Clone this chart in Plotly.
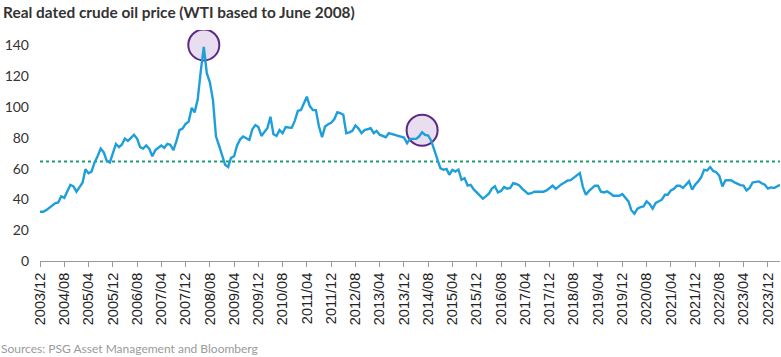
import plotly.graph_objects as go
import pandas as pd

title = "Real dated crude oil price (WTI based to June 2008)"
source = "Sources: PSG Asset Management and Bloomberg"

start_month = "2003-12-01"
# Monthly real WTI price, 2003/12 .. 2024/04
wti_real = [
    32, 32, 33, 34.5, 36, 37.5, 38, 42, 41, 45,
    49.5, 48.5, 45, 48, 51, 59.5, 57, 58, 64, 68,
    73, 70.5, 65, 64, 70, 76, 74, 75.5, 79.5, 78,
    80, 82, 79.5, 74, 73, 75, 73, 68, 72, 73.5,
    75, 73.5, 76, 75.5, 72, 78, 85, 86, 89, 90.5,
    99.5, 96.5, 105, 123, 139, 122, 116, 104.5, 81, 75,
    68, 62.5, 61, 67, 68, 75, 79, 80.8, 79.7, 78.6,
    85.6, 88.3, 87, 81.2, 84, 86.2, 93.7, 82.3, 81.2, 85,
    83, 87, 86.7, 86.5, 91, 97.5, 98, 102, 106.7, 100.6,
    98, 98, 87.3, 80.4, 87.3, 88.8, 89.8, 92, 96.6, 96,
    95, 83, 83.5, 84.5, 88, 86, 83, 85, 85.5, 86.2,
    83, 84.5, 82, 81, 80.4, 83, 82.5, 81.9, 81.3, 80.8,
    80.2, 76.5, 79.3, 79.3, 79.3, 80.8, 83.6, 81.9, 81.5, 78,
    72, 67, 60.3, 59.2, 59.8, 56, 59.2, 58.1, 59.4, 52.7,
    53.8, 49, 49.5, 46.5, 44.5, 42, 40.5, 42, 43.7, 47,
    48.5, 44.5, 45.5, 48, 47, 47.5, 50.5, 50, 49, 47,
    45.5, 43.5, 44, 45, 45, 44.8, 45, 45.8, 47.4, 48.9,
    46.8, 48.5, 49.9, 51, 52.3, 52.5, 54, 55.5, 57.1, 48,
    43, 45.5, 47.5, 48.9, 48.9, 45, 44.5, 45.2, 44, 42.4,
    42.4, 42.4, 43.5, 41, 38.7, 33, 30.7, 34, 35, 35.4,
    38.7, 37, 34, 37.7, 38.7, 39.8, 43, 43, 45.8, 46.8,
    48.9, 48.9, 47.4, 49.5, 51.7, 46.3, 49.5, 51.7, 54.5, 59.2,
    58.8, 61, 58.5, 57.7, 55.3, 48.4, 52.3, 52.5, 52.3, 51,
    50, 49.3, 48.9, 45.8, 47.4, 51, 51.4, 51.7, 50.5, 49.5,
    47, 47.8, 47.4, 48.5, 49.5,
]
average_level = 64.6
highlight_months = ["2008-06-01", "2014-06-01"]

dates = pd.date_range(start_month, periods=len(wti_real), freq="MS")
tick_dates = dates[::8]
tick_text = [d.strftime("%Y/%m") for d in tick_dates]
value_by_date = dict(zip(dates.strftime("%Y-%m-%d"), wti_real))

fig = go.Figure()

for hm in highlight_months:
    fig.add_shape(
        type="circle", xref="x", yref="y",
        xsizemode="pixel", ysizemode="pixel",
        xanchor=hm, yanchor=value_by_date[hm],
        x0=-15.5, x1=15.5, y0=-15.5 + 2, y1=15.5 + 2,
        line=dict(color="#5b2a86", width=2),
        fillcolor="rgba(225,210,235,0.75)",
        layer="below",
    )

fig.add_shape(
    type="line", xref="paper", yref="y",
    x0=0, x1=1, y0=average_level, y1=average_level,
    line=dict(color="#1f9e6e", width=2, dash="dot"),
    layer="below",
)

fig.add_trace(go.Scatter(
    x=dates, y=wti_real, mode="lines",
    line=dict(color="#1f9fd9", width=2.4),
    hoverinfo="x+y", showlegend=False,
))

fig.update_layout(
    width=781, height=357,
    margin=dict(l=40, r=1, t=30, b=95.5, autoexpand=False),
    paper_bgcolor="white", plot_bgcolor="white",
    font=dict(family="Lato", color="#333333"),
    title=dict(
        text="<b>" + title + "</b>", x=0.004, xanchor="left",
        y=1 - 13 / 357, yanchor="middle",
        font=dict(family="Lato", size=15.4, color="#333333"),
        automargin=False,
    ),
    annotations=[dict(
        text=source, xref="paper", yref="paper",
        x=-41 / 740, xanchor="left", y=-(349 - 261.5) / 231.5, yanchor="middle",
        showarrow=False, font=dict(family="Lato", size=12, color="#9a9a9a"),
    )],
)

fig.update_xaxes(
    type="date", automargin=False,
    range=[dates[0], dates[-1]],
    tickmode="array", tickvals=tick_dates, ticktext=tick_text,
    tickangle=-90,
    tickfont=dict(family="Liberation Sans", size=14.5, color="#222222"),
    ticks="outside", ticklen=5, tickcolor="#999999", tickwidth=1,
    showline=True, linecolor="#999999", linewidth=1,
    showgrid=False, zeroline=False,
)

fig.update_yaxes(
    range=[0, 150], automargin=False,
    tickmode="array", tickvals=list(range(0, 141, 20)),
    tickfont=dict(family="Lato", size=14, color="#333333"),
    ticklabelstandoff=10,
    showgrid=False, zeroline=False, showline=False, ticks="",
)

fig.write_html(
    "out.html",
    config={"displayModeBar": False},
    post_script="document.body.style.margin='0';document.body.style.padding='0';",
)
